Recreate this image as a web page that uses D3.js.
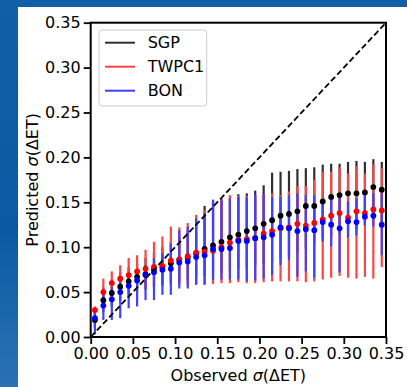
<!DOCTYPE html>
<html>
<head>
<meta charset="utf-8">
<script src="https://cdn.jsdelivr.net/npm/d3@7"></script>
<style>
  html, body { margin: 0; padding: 0; background: #0d5ea6; }
  svg { display: block; }
  text { font-family: "DejaVu Sans", sans-serif; }
</style>
</head>
<body>
<svg id="chart"></svg>
<script>
// bin centres of observed sigma
const observed = [0.005, 0.015, 0.025, 0.035, 0.045, 0.055, 0.065, 0.075, 0.085, 0.095,
  0.105, 0.115, 0.125, 0.135, 0.145, 0.155, 0.165, 0.175, 0.185, 0.195,
  0.205, 0.215, 0.225, 0.235, 0.245, 0.255, 0.265, 0.275, 0.285, 0.295,
  0.305, 0.315, 0.325, 0.335, 0.345];

const sgpMean = [0.019, 0.041, 0.049, 0.056, 0.062, 0.067, 0.070, 0.075, 0.078, 0.082,
  0.086, 0.088, 0.093, 0.098, 0.102, 0.106, 0.111, 0.114, 0.118, 0.121,
  0.126, 0.130, 0.135, 0.137, 0.140, 0.146, 0.146, 0.151, 0.156, 0.158,
  0.160, 0.160, 0.161, 0.167, 0.164];
const sgpLow = [0.010, 0.028, 0.034, 0.040, 0.046, 0.050, 0.053, 0.056, 0.058, 0.060,
  0.062, 0.064, 0.066, 0.068, 0.070, 0.072, 0.074, 0.076, 0.078, 0.080,
  0.082, 0.084, 0.088, 0.090, 0.094, 0.098, 0.104, 0.110, 0.112, 0.115,
  0.118, 0.120, 0.125, 0.130, 0.128];
const sgpHigh = [0.028, 0.055, 0.064, 0.072, 0.078, 0.083, 0.088, 0.094, 0.100, 0.106,
  0.112, 0.118, 0.128, 0.146, 0.150, 0.154, 0.156, 0.159, 0.160, 0.163,
  0.169, 0.183, 0.184, 0.185, 0.187, 0.188, 0.189, 0.192, 0.193, 0.193,
  0.195, 0.196, 0.195, 0.198, 0.195];

const twpMean = [0.030, 0.050, 0.060, 0.065, 0.069, 0.073, 0.076, 0.078, 0.079, 0.085,
  0.086, 0.090, 0.094, 0.095, 0.096, 0.100, 0.105, 0.108, 0.109, 0.110,
  0.115, 0.118, 0.121, 0.122, 0.126, 0.124, 0.127, 0.131, 0.135, 0.138,
  0.133, 0.140, 0.138, 0.142, 0.141];
const twpLow = [0.022, 0.036, 0.045, 0.050, 0.052, 0.054, 0.056, 0.056, 0.057, 0.058,
  0.058, 0.058, 0.059, 0.059, 0.059, 0.060, 0.060, 0.061, 0.060, 0.060,
  0.061, 0.062, 0.062, 0.062, 0.062, 0.061, 0.062, 0.064, 0.066, 0.068,
  0.066, 0.065, 0.067, 0.065, 0.078];
const twpHigh = [0.034, 0.065, 0.073, 0.080, 0.088, 0.091, 0.097, 0.106, 0.112, 0.123,
  0.122, 0.127, 0.136, 0.141, 0.150, 0.153, 0.158, 0.157, 0.157, 0.158,
  0.159, 0.160, 0.158, 0.162, 0.168, 0.168, 0.175, 0.184, 0.184, 0.189,
  0.182, 0.190, 0.182, 0.192, 0.188];

const bonMean = [0.021, 0.035, 0.042, 0.050, 0.057, 0.063, 0.069, 0.072, 0.075, 0.076,
  0.083, 0.084, 0.089, 0.091, 0.098, 0.098, 0.099, 0.107, 0.107, 0.110,
  0.111, 0.114, 0.122, 0.121, 0.118, 0.120, 0.119, 0.128, 0.125, 0.121,
  0.129, 0.128, 0.134, 0.135, 0.125];
const bonLow = [0.003, 0.019, 0.019, 0.021, 0.032, 0.034, 0.041, 0.041, 0.047, 0.047,
  0.054, 0.054, 0.058, 0.058, 0.063, 0.064, 0.064, 0.064, 0.062, 0.063,
  0.065, 0.069, 0.080, 0.086, 0.067, 0.073, 0.066, 0.106, 0.101, 0.072,
  0.111, 0.113, 0.124, 0.123, 0.091];
const bonHigh = [0.030, 0.048, 0.056, 0.062, 0.068, 0.074, 0.080, 0.088, 0.093, 0.104,
  0.119, 0.123, 0.132, 0.138, 0.153, 0.152, 0.154, 0.156, 0.155, 0.158,
  0.159, 0.156, 0.156, 0.158, 0.160, 0.158, 0.158, 0.153, 0.154, 0.160,
  0.151, 0.154, 0.158, 0.160, 0.160];

const seriesNames = ['SGP', 'TWPC1', 'BON'];
const tickValues = [0.00, 0.05, 0.10, 0.15, 0.20, 0.25, 0.30, 0.35];
const axisDomain = [0, 0.35];

const series = [
  {name: seriesNames[0], mean: sgpMean, low: sgpLow, high: sgpHigh, dot: '#000000', bar: '#303030'},
  {name: seriesNames[1], mean: twpMean, low: twpLow, high: twpHigh, dot: '#ff0000', bar: '#ff4444'},
  {name: seriesNames[2], mean: bonMean, low: bonLow, high: bonHigh, dot: '#0000ff', bar: '#4040ff'}
];

const FONT = '16px';

let W = 407, H = 387;
let margin = {top: 22.7, right: 21, bottom: 50, left: 90.7};
let width = W - margin.left - margin.right;
let height = H - margin.top - margin.bottom;

let svg = d3.select('#chart').attr('width', W).attr('height', H);

// slide background and white figure panel
let grad = svg.append('defs').append('linearGradient')
    .attr('id', 'bg').attr('x1', 0).attr('y1', 0).attr('x2', 0).attr('y2', 1);
grad.append('stop').attr('offset', '0%').attr('stop-color', '#1160a6');
grad.append('stop').attr('offset', '60%').attr('stop-color', '#0a5aa3');
grad.append('stop').attr('offset', '100%').attr('stop-color', '#2b72b3');
svg.append('rect').attr('width', W).attr('height', H).attr('fill', 'url(#bg)');
svg.append('rect').attr('x', 18).attr('y', 7).attr('width', W - 18).attr('height', H - 7).attr('fill', '#ffffff');

let g = svg.append('g').attr('transform', `translate(${margin.left},${margin.top})`);

let x = d3.scaleLinear().domain(axisDomain).range([0, width]);
let y = d3.scaleLinear().domain(axisDomain).range([height, 0]);

// error bars, one series after another
series.forEach(s => {
    g.append('g').selectAll('line')
        .data(observed.map((o, i) => ({o, lo: s.low[i], hi: s.high[i]})))
        .join('line')
        .attr('x1', d => x(d.o)).attr('x2', d => x(d.o))
        .attr('y1', d => y(d.lo)).attr('y2', d => y(d.hi))
        .attr('stroke', s.bar)
        .attr('stroke-width', 2.2);
});

// markers on top
series.forEach(s => {
    g.append('g').selectAll('circle')
        .data(observed.map((o, i) => ({o, v: s.mean[i]})))
        .join('circle')
        .attr('cx', d => x(d.o))
        .attr('cy', d => y(d.v))
        .attr('r', 2.9)
        .attr('fill', s.dot);
});

// one-to-one line
g.append('line')
    .attr('x1', x(axisDomain[0])).attr('y1', y(axisDomain[0]))
    .attr('x2', x(axisDomain[1])).attr('y2', y(axisDomain[1]))
    .attr('stroke', '#000')
    .attr('stroke-width', 1.8)
    .attr('stroke-dasharray', '6,3');

// axes
let fmt = d3.format('.2f');
let xAxis = g.append('g')
    .attr('transform', `translate(0,${height})`)
    .call(d3.axisBottom(x).tickValues(tickValues).tickFormat(fmt).tickSize(7).tickPadding(3.5));
let yAxis = g.append('g')
    .call(d3.axisLeft(y).tickValues(tickValues).tickFormat(fmt).tickSize(7).tickPadding(3));
[xAxis, yAxis].forEach(a => {
    a.select('.domain').remove();
    a.selectAll('.tick line').attr('stroke', '#000').attr('stroke-width', 1.8);
    a.selectAll('.tick text')
        .attr('fill', '#000')
        .style('font-family', '"DejaVu Sans", sans-serif')
        .style('font-size', FONT);
});

// frame
g.append('rect')
    .attr('width', width).attr('height', height)
    .attr('fill', 'none')
    .attr('stroke', '#000')
    .attr('stroke-width', 2);

// axis labels
let xl = svg.append('text')
    .attr('x', margin.left + width / 2)
    .attr('y', 381)
    .attr('text-anchor', 'middle')
    .style('font-size', FONT);
xl.append('tspan').text('Observed ');
xl.append('tspan').style('font-style', 'italic').text('σ');
xl.append('tspan').text('(ΔET)');

let yl = svg.append('text')
    .attr('transform', `translate(38,${margin.top + height / 2}) rotate(-90)`)
    .attr('text-anchor', 'middle')
    .style('font-size', FONT);
yl.append('tspan').text('Predicted ');
yl.append('tspan').style('font-style', 'italic').text('σ');
yl.append('tspan').text('(ΔET)');

// legend
let legend = svg.append('g').attr('transform', 'translate(99,30)');
legend.append('rect')
    .attr('width', 107.7).attr('height', 76)
    .attr('rx', 3)
    .attr('fill', '#fff')
    .attr('fill-opacity', 0.8)
    .attr('stroke', '#cccccc')
    .attr('stroke-width', 1);
series.forEach((s, i) => {
    let row = legend.append('g').attr('transform', `translate(0,${12.7 + i * 24})`);
    row.append('line')
        .attr('x1', 6).attr('x2', 36)
        .attr('stroke', s.bar)
        .attr('stroke-width', 2);
    row.append('text')
        .attr('x', 48.7)
        .attr('dy', '0.36em')
        .style('font-size', FONT)
        .text(s.name);
});
</script>
</body>
</html>
